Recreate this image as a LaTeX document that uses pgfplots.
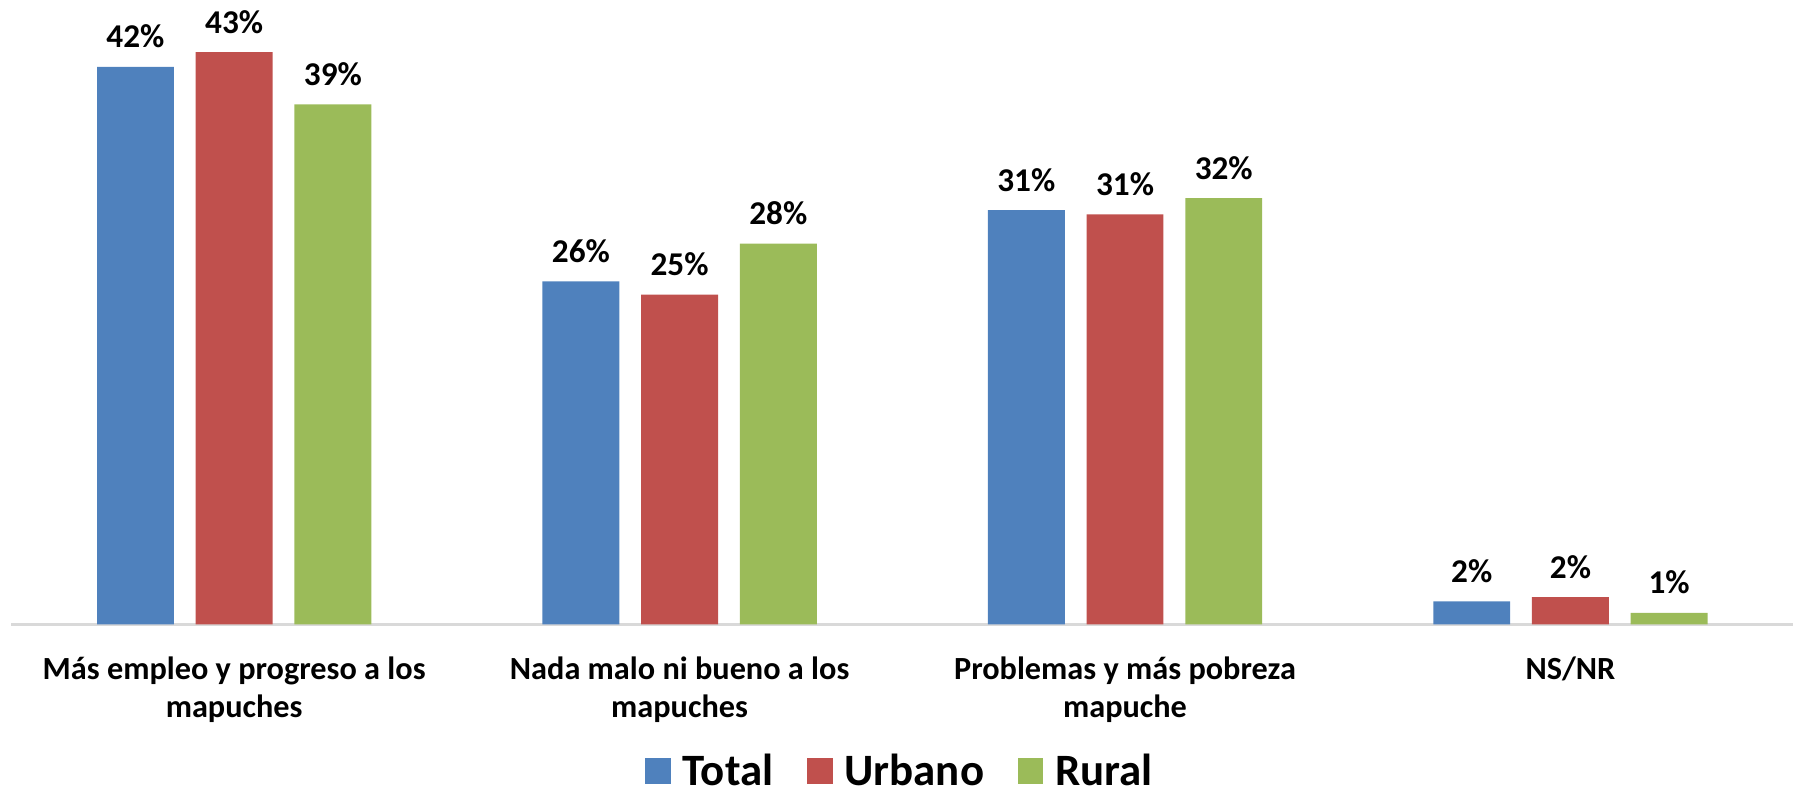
\documentclass[border=0pt]{standalone}
\usepackage{fontspec}
\setmainfont{Carlito}
\usepackage{pgfplots}
\pgfplotsset{compat=1.18}

\definecolor{cTotal}{HTML}{4F81BD}
\definecolor{cUrbano}{HTML}{C0504D}
\definecolor{cRural}{HTML}{9BBB59}
\definecolor{cGrid}{HTML}{D9D9D9}

\begin{document}
\begin{tikzpicture}
\begin{axis}[
    scale only axis,
    width=19.4cm, height=6.569cm,
    ybar=0.2375cm, bar width=0.8375cm,
    xmin=-0.5, xmax=3.5,
    ymin=0, ymax=45,
    xtick={0,1,2,3},
    xticklabels={{Más empleo y progreso a los\\mapuches},
                 {Nada malo ni bueno a los\\mapuches},
                 {Problemas y más pobreza\\mapuche},
                 {NS/NR}},
    xticklabel style={align=center, font=\fontsize{10}{11.7}\selectfont\bfseries,
                      text=black, yshift=-0.08cm},
    major x tick style={draw=none},
    ytick={0,5,...,45}, yticklabels={},
    major y tick style={draw=none},
    ymajorgrids, grid style={cGrid, line width=0.9pt},
    axis x line*=bottom,
    axis y line=none,
    x axis line style={cGrid, line width=0.9pt, -},
    point meta=explicit,
    nodes near coords={\pgfmathprintnumber[fixed,precision=0,assume math mode=true]{\pgfplotspointmeta}\%},
    every node near coord/.append style={font=\fontsize{10.3}{12}\selectfont\bfseries,
        text=black, anchor=base, inner sep=0pt, yshift=0.206cm},
    legend columns=3,
    legend style={at={(0.5,-0.244)}, anchor=center, draw=none,
        font=\fontsize{13.9}{15}\selectfont\bfseries,
        inner sep=1pt,
        /tikz/every odd column/.append style={column sep=0.06cm},
        /tikz/every even column/.append style={column sep=0.3cm}},
    legend image code/.code={\fill[#1] (0cm,-0.13cm) rectangle (0.275cm,0.145cm);},
    clip=false,
]
\coordinate (bl) at (rel axis cs:0,0);
\coordinate (tr) at (rel axis cs:1,1);

\addplot[fill=cTotal, draw=none] coordinates {
    (0,41.6) [42] (1,25.6) [26] (2,30.9) [31] (3,1.72) [2]
};
\addplot[fill=cUrbano, draw=none] coordinates {
    (0,42.7) [43] (1,24.6) [25] (2,30.6) [31] (3,2.04) [2]
};
\addplot[fill=cRural, draw=none] coordinates {
    (0,38.8) [39] (1,28.4) [28] (2,31.8) [32] (3,0.87) [1]
};
\legend{Total, Urbano, Rural}
\end{axis}
\pgfresetboundingbox
\path[use as bounding box] ([shift={(-0.125cm,-1.84cm)}]bl) rectangle ([shift={(0.075cm,0.231cm)}]tr);
\end{tikzpicture}
\end{document}
